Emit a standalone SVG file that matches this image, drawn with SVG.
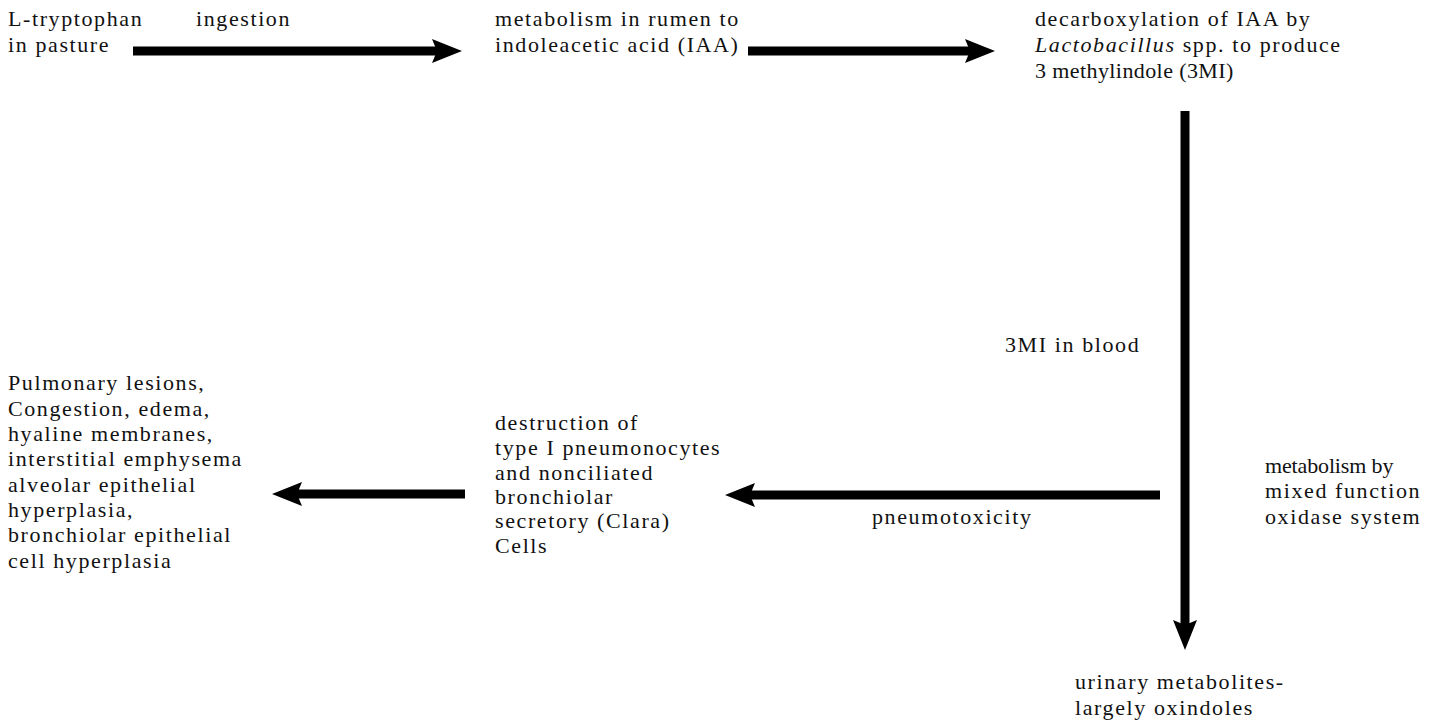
<svg xmlns="http://www.w3.org/2000/svg" width="1439" height="722" viewBox="0 0 1439 722">
<style>
text{font-family:"Liberation Serif","Times New Roman",serif;font-size:22px;letter-spacing:1.6px;fill:#111;}
.ln{fill:none;stroke:#000;stroke-width:9;marker-end:url(#ah);}
</style>
<defs>
<marker id="ah" markerUnits="userSpaceOnUse" markerWidth="32" markerHeight="30" viewBox="0 -15 32 30" refX="5" refY="0" orient="auto">
<path d="M30,0 L0,-12 L5,0 L0,12 Z" fill="#000"/>
</marker>
</defs>
<rect width="1439" height="722" fill="#fff"/>
<g id="connectors">
<path class="ln" d="M133,51 H437"/>
<path class="ln" d="M748,51 H970"/>
<path class="ln" d="M1185,111 V625"/>
<path class="ln" d="M1160,495 H750"/>
<path class="ln" d="M465,494 H297"/>
</g>
<g id="n-tryptophan"><text x="8" y="26">L-tryptophan</text><text x="8" y="52">in pasture</text></g>
<g id="l-ingestion"><text x="196" y="26">ingestion</text></g>
<g id="n-rumen"><text x="495" y="26">metabolism in rumen to</text><text x="495" y="52">indoleacetic acid (IAA)</text></g>
<g id="n-decarb"><text x="1035" y="26">decarboxylation of IAA by</text><text x="1035" y="52"><tspan font-style="italic">Lactobacillus</tspan> spp. to produce</text><text x="1035" y="78" textLength="200" lengthAdjust="spacing">3 methylindole (3MI)</text></g>
<g id="l-blood"><text x="1005" y="352">3MI in blood</text></g>
<g id="l-mfo"><text x="1265" y="473" textLength="130" lengthAdjust="spacing">metabolism by</text><text x="1265" y="498">mixed function</text><text x="1265" y="524">oxidase system</text></g>
<g id="l-pneumo"><text x="872" y="524">pneumotoxicity</text></g>
<g id="n-urinary"><text x="1075" y="689">urinary metabolites-</text><text x="1075" y="715">largely oxindoles</text></g>
<g id="n-destruction"><text x="495" y="430">destruction of</text><text x="495" y="455">type I pneumonocytes</text><text x="495" y="480">and nonciliated</text><text x="495" y="504">bronchiolar</text><text x="495" y="528">secretory (Clara)</text><text x="495" y="553">Cells</text></g>
<g id="n-lesions"><text x="8" y="390">Pulmonary lesions,</text><text x="8" y="416">Congestion, edema,</text><text x="8" y="441">hyaline membranes,</text><text x="8" y="466">interstitial emphysema</text><text x="8" y="492">alveolar epithelial</text><text x="8" y="517">hyperplasia,</text><text x="8" y="542">bronchiolar epithelial</text><text x="8" y="568">cell hyperplasia</text></g>
</svg>
